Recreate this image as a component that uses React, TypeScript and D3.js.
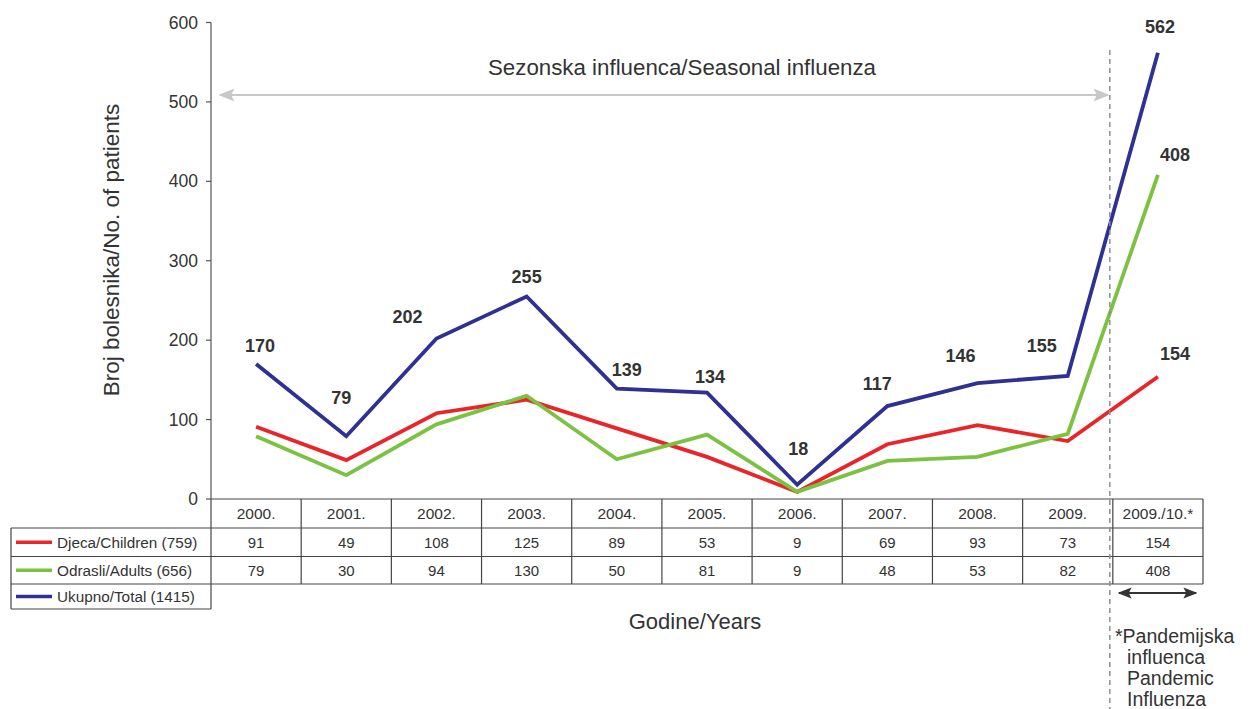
import React from "react";
import * as d3 from "d3";

const years = ["2000.", "2001.", "2002.", "2003.", "2004.", "2005.", "2006.", "2007.", "2008.", "2009.", "2009./10.*"];
const children = [91, 49, 108, 125, 89, 53, 9, 69, 93, 73, 154];
const adults = [79, 30, 94, 130, 50, 81, 9, 48, 53, 82, 408];
const total = [170, 79, 202, 255, 139, 134, 18, 117, 146, 155, 562];
const yTicks = [0, 100, 200, 300, 400, 500, 600];
const pandemicNote = ["*Pandemijska", "influenca", "Pandemic", "Influenza"];

// label offsets for the total values (dx, dy from point), then adults/children for the last year
const labelDx = [4, -5, -29, 0, 10, 3, 1, -10, -17, -26, 2, 17, 17];
const labelDy = [-12, -32, -16, -13, -13, -10, -30, -16, -21, -24, -20, -8, -17];

const series = [
  { name: "Djeca/Children (759)", values: children, color: "#e8252a" },
  { name: "Odrasli/Adults (656)", values: adults, color: "#7cc242" },
  { name: "Ukupno/Total (1415)", values: total, color: "#2e3192" },
];

const W = 1252;
const H = 709;
const left = 211;
const right = 1203;
const y0 = 499;
const y600 = 22.5;
const font = "'Liberation Sans', Arial, sans-serif";
const ink = "#333";

export default function App() {
  const x = d3.scaleBand<string>().domain(years).range([left, right]);
  const y = d3.scaleLinear().domain([0, 600]).range([y0, y600]);
  const cx = (i: number) => (x(years[i]) ?? 0) + x.bandwidth() / 2;
  const line = d3
    .line<number>()
    .x((_, i) => cx(i))
    .y((d) => y(d));

  const rows = [y0, 528, 556.5, 584, 609];
  const dashX = left + x.bandwidth() * 10 - 3;

  return (
    <svg width={W} height={H} style={{ position: "absolute", left: 0, top: 0 }} fontFamily={font}>
      <defs>
        <marker id="ga" viewBox="0 0 10 10" refX="9" refY="5" markerWidth="8" markerHeight="8" orient="auto-start-reverse">
          <path d="M0,1 L10,5 L0,9 L2,5 Z" fill="#c8c8c8" />
        </marker>
        <marker id="da" viewBox="0 0 10 10" refX="9" refY="5" markerWidth="7" markerHeight="7" orient="auto-start-reverse">
          <path d="M0,1 L10,5 L0,9 L2,5 Z" fill="#333" />
        </marker>
      </defs>

      {/* y axis */}
      <line x1={left} x2={left} y1={y(600)} y2={y0} stroke="#555" strokeWidth={1.2} />
      {yTicks.map((t) => (
        <g key={t}>
          <line x1={left - 5} x2={left} y1={y(t)} y2={y(t)} stroke="#555" strokeWidth={1.2} />
          <text x={left - 13} y={y(t)} dy="0.35em" textAnchor="end" fontSize={17.5} fill={ink}>
            {t}
          </text>
        </g>
      ))}
      <text
        transform={`translate(119,250) rotate(-90)`}
        textAnchor="middle"
        fontSize={22.5}
        fill={ink}
      >
        Broj bolesnika/No. of patients
      </text>

      {/* seasonal annotation */}
      <line x1={220} x2={1108} y1={95} y2={95} stroke="#c8c8c8" strokeWidth={2} markerStart="url(#ga)" markerEnd="url(#ga)" />
      <text x={682} y={75} textAnchor="middle" fontSize={22.3} fill={ink}>
        Sezonska influenca/Seasonal influenza
      </text>

      {/* table */}
      <g stroke="#444" strokeWidth={1.2} fill="none">
        <line x1={left} x2={right} y1={y0} y2={y0} />
        <line x1={11} x2={right} y1={rows[1]} y2={rows[1]} />
        <line x1={11} x2={right} y1={rows[2]} y2={rows[2]} />
        <line x1={11} x2={right} y1={rows[3]} y2={rows[3]} />
        <line x1={11} x2={left} y1={rows[4]} y2={rows[4]} />
        <line x1={11} x2={11} y1={rows[1]} y2={rows[4]} />
        <line x1={left} x2={left} y1={y0} y2={rows[4]} />
        {years.map((yr) => (
          <line key={yr} x1={(x(yr) ?? 0) + x.bandwidth()} x2={(x(yr) ?? 0) + x.bandwidth()} y1={y0} y2={rows[3]} />
        ))}
      </g>
      {years.map((yr, i) => (
        <g key={yr} fill={ink} textAnchor="middle">
          <text x={cx(i)} y={(rows[0] + rows[1]) / 2} dy="0.35em" fontSize={15.5}>{yr}</text>
          <text x={cx(i)} y={(rows[1] + rows[2]) / 2} dy="0.35em" fontSize={15}>{children[i]}</text>
          <text x={cx(i)} y={(rows[2] + rows[3]) / 2} dy="0.35em" fontSize={15}>{adults[i]}</text>
        </g>
      ))}
      {series.map((s, k) => {
        const ym = (rows[k + 1] + rows[k + 2]) / 2;
        return (
          <g key={s.name}>
            <line x1={16} x2={52} y1={ym} y2={ym} stroke={s.color} strokeWidth={3.5} />
            <text x={57} y={ym} dy="0.35em" fontSize={15.3} fill={ink}>{s.name}</text>
          </g>
        );
      })}

      {/* lines */}
      {series.map((s) => (
        <path key={s.name} d={line(s.values) ?? ""} fill="none" stroke={s.color} strokeWidth={3.8} strokeLinejoin="miter" />
      ))}

      {/* value labels */}
      {total.map((v, i) => (
        <text key={i} x={cx(i) + labelDx[i]} y={y(v) + labelDy[i]} textAnchor="middle" fontSize={18} fontWeight="bold" fill={ink}>
          {v}
        </text>
      ))}
      <text x={cx(10) + labelDx[11]} y={y(adults[10]) + labelDy[11] - 6} textAnchor="middle" fontSize={18} fontWeight="bold" fill={ink}>
        {adults[10]}
      </text>
      <text x={cx(10) + labelDx[12]} y={y(children[10]) + labelDy[12]} textAnchor="middle" fontSize={18} fontWeight="bold" fill={ink}>
        {children[10]}
      </text>

      {/* pandemic divider */}
      <line x1={dashX} x2={dashX} y1={50} y2={H} stroke="#8a8f94" strokeWidth={1.5} strokeDasharray="5,4" />
      <line x1={1119} x2={1196} y1={593} y2={593} stroke="#333" strokeWidth={2} markerStart="url(#da)" markerEnd="url(#da)" />
      <g fontSize={19.5} fill={ink}>
        {pandemicNote.map((t, i) => (
          <text key={t} x={i === 0 ? 1115 : 1127} y={643 + i * 21}>
            {t}
          </text>
        ))}
      </g>

      <text x={695} y={629} textAnchor="middle" fontSize={22} fill={ink}>
        Godine/Years
      </text>
    </svg>
  );
}
